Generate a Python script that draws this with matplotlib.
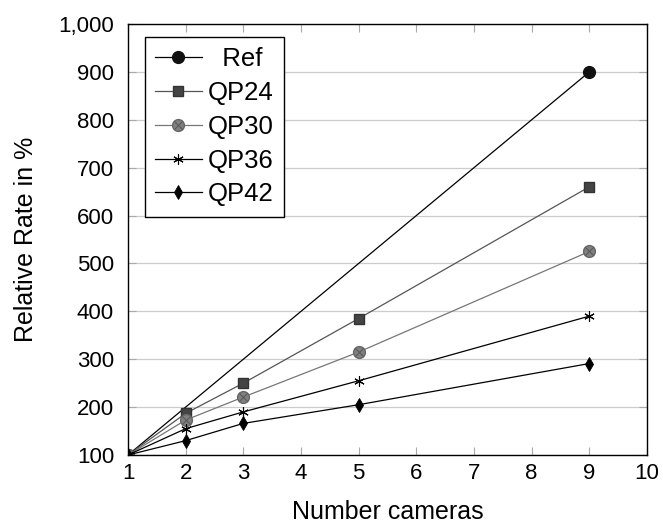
import matplotlib
matplotlib.use("Agg")
import matplotlib.pyplot as plt
from matplotlib.ticker import FuncFormatter

plt.rcParams['font.family'] = ['Liberation Sans', 'DejaVu Sans']

ref_cameras = [1, 9]
ref = [100, 900]
cameras = [1, 2, 3, 5, 9]
qp24 = [100, 187, 250, 385, 660]
qp30 = [100, 173, 221, 315, 525]
qp36 = [100, 155, 190, 255, 390]
qp42 = [100, 130, 166, 205, 291]
labels = ["Ref", "QP24", "QP30", "QP36", "QP42"]
xticks = list(range(1, 11))
yticks = list(range(100, 1001, 100))

W, H = 663, 524
fig = plt.figure(figsize=(W/100, H/100), dpi=100)
ax = fig.add_axes([128/W, 1-455/H, (647-128)/W, (455-24)/H])

h_ref, = ax.plot(ref_cameras, ref, color='black', lw=0.9, marker='o', ms=8.5,
                 mfc='#111111', mec='#111111')
h24, = ax.plot(cameras, qp24, color='#555555', lw=0.9, marker='s', ms=7.5,
               mfc='#444444', mec='#333333')
h30, = ax.plot(cameras, qp30, color='#777777', lw=0.9, marker='o', ms=8.5,
               mfc='#808080', mec='#666666')
h30x, = ax.plot(cameras, qp30, ls='none', marker='x', ms=5.5, mec='#5a5a5a', mew=0.8)
h36, = ax.plot(cameras, qp36, color='black', lw=0.9, marker=(6, 2, 0), ms=7.5, mew=0.8)
h42, = ax.plot(cameras, qp42, color='black', lw=0.9, marker='d', ms=7.5,
               mfc='black', mec='black', mew=0.6)

ax.set_xlim(xticks[0], xticks[-1])
ax.set_ylim(yticks[0], yticks[-1])
ax.set_xticks(xticks)
ax.set_yticks(yticks)
ax.yaxis.set_major_formatter(FuncFormatter(lambda v, p: f"{int(v):,}"))
ax.grid(axis='y', color='#cccccc', lw=0.9)
ax.set_axisbelow(True)
ax.tick_params(direction='in', top=True, right=True, length=6, color='#aaaaaa',
               labelsize=16, pad=6)
ax.tick_params(axis='y', pad=10)
for s in ax.spines.values():
    s.set_linewidth(1.0)
ax.set_xlabel("Number cameras", fontsize=18, labelpad=11)
ax.set_ylabel("Relative Rate in %", fontsize=18, labelpad=15)

leg_labels = ["  " + labels[0]] + labels[1:]
leg = ax.legend([h_ref, h24, (h30, h30x), h36, h42], leg_labels,
                loc='upper left', bbox_to_anchor=(145/W, 1-37/H),
                bbox_transform=fig.transFigure, borderaxespad=0,
                fontsize=18.5, frameon=True, fancybox=False,
                edgecolor='black', framealpha=1, handlelength=1.8,
                handletextpad=0.25, borderpad=0.4, labelspacing=0.38)
leg.get_frame().set_linewidth(1.0)

fig.savefig("out.png", dpi=100)
